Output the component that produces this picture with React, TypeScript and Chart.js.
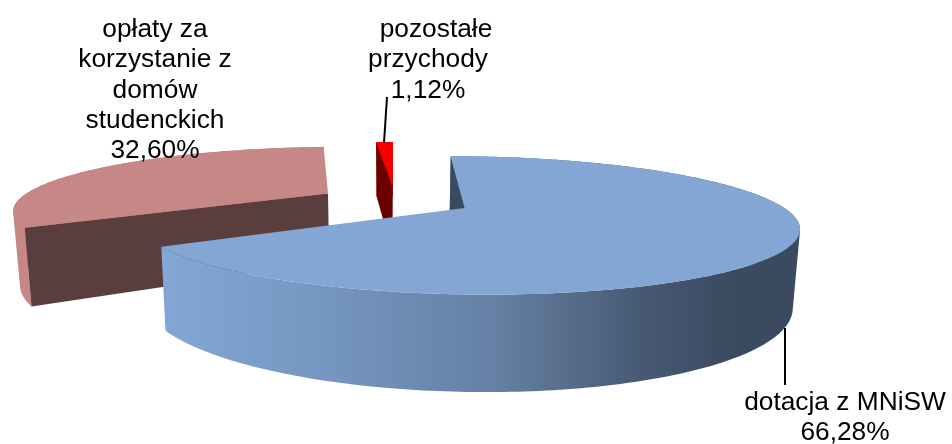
import React, { useEffect, useRef } from "react";
import { Chart, registerables } from "chart.js";

Chart.register(...registerables);

const categories = [["dotacja z MNiSW"], ["opłaty za", "korzystanie z", "domów", "studenckich"], ["pozostałe", "przychody"]];
const shares = [66.28, 32.6, 1.12];
const topColors = ["#84a6d4", "#c58886", "#f80000"];
const edgeColors = ["#3a4a5f", "#5a3d3d", "#680000"];
const rimColors = ["", "#c58886", "#f80000"];

// projection of the pie disc onto the page
const view = { cx: 395, cy: 200.3, rx: 310, ry: 61, k: 0.244, depth: 70.8, conv: 0.018, explode: 0.25 };
// label layout
const labelLayout = [
  { x: 845, y: 403, firstDx: 0 },
  { x: 155, y: 30, firstDx: 0 },
  { x: 428, y: 30, firstDx: 8 },
];
const leaders = [
  [785, 328, 785, 385],
  [387, 97, 384, 143],
  null,
];
const FONT_SIZE = 26.3;
const LINE_H = 30.2;

function project(U: number, V: number, low: boolean) {
  const W = 1 - view.k * V;
  let x = view.cx + (view.rx * U) / W;
  let y = view.cy + (view.ry * V) / W;
  if (low) {
    x = view.cx + (x - view.cx) * (1 - view.conv);
    y += view.depth / W;
  }
  return { x, y };
}

type Pt = { x: number; y: number };
function fillPoly(ctx: CanvasRenderingContext2D, pts: Pt[], fill: string | CanvasGradient) {
  ctx.beginPath();
  pts.forEach((p, i) => (i ? ctx.lineTo(p.x, p.y) : ctx.moveTo(p.x, p.y)));
  ctx.closePath();
  ctx.fillStyle = fill;
  ctx.fill();
}
function area(pts: Pt[]) {
  let s = 0;
  pts.forEach((p, i) => {
    const q = pts[(i + 1) % pts.length];
    s += p.x * q.y - q.x * p.y;
  });
  return s;
}

const pie3d = {
  id: "pie3d",
  beforeDatasetsDraw(chart: any) {
    const ctx: CanvasRenderingContext2D = chart.ctx;
    const arcs = chart.getDatasetMeta(0).data;
    const order = [1, 2, 0];
    order.forEach((i) => {
      const { startAngle: a0, endAngle: a1 } = arcs[i].getProps(["startAngle", "endAngle"], true);
      const mid = (a0 + a1) / 2;
      const ou = Math.cos(mid) * view.explode;
      const ov = Math.sin(mid) * view.explode;
      const rimTop: Pt[] = [];
      const rimLow: Pt[] = [];
      const n = Math.max(4, Math.ceil(((a1 - a0) * 180) / Math.PI));
      for (let s = 0; s <= n; s++) {
        const t = a0 + ((a1 - a0) * s) / n;
        const U = ou + Math.cos(t);
        const V = ov + Math.sin(t);
        rimTop.push(project(U, V, false));
        rimLow.push(project(U, V, true));
      }
      const apexTop = project(ou, ov, false);
      const apexLow = project(ou, ov, true);

      // outer wall: one quad per step, all wound the same way, in a single path
      let rimFill: string | CanvasGradient = rimColors[i];
      if (i === 0) {
        const g = ctx.createLinearGradient(165, 0, 735, 0);
        g.addColorStop(0, "#84a6d4");
        g.addColorStop(0.237, "#7799c4");
        g.addColorStop(0.588, "#6480a3");
        g.addColorStop(0.675, "#5a7290");
        g.addColorStop(0.833, "#475a75");
        g.addColorStop(1, "#3a4a5f");
        rimFill = g;
      }
      ctx.beginPath();
      for (let s = 0; s < n; s++) {
        let q = [rimTop[s], rimTop[s + 1], rimLow[s + 1], rimLow[s]];
        if (area(q) < 0) q = q.reverse();
        q.forEach((p, j) => (j ? ctx.lineTo(p.x, p.y) : ctx.moveTo(p.x, p.y)));
        ctx.closePath();
      }
      ctx.fillStyle = rimFill;
      ctx.fill();

      // radial walls that face the viewer
      const startWall = [apexTop, rimTop[0], rimLow[0], apexLow];
      const endWall = [apexTop, rimTop[n], rimLow[n], apexLow];
      if (area(startWall) < 0) fillPoly(ctx, startWall, edgeColors[i]);
      if (area(endWall) > 0) fillPoly(ctx, endWall, edgeColors[i]);

      // top face
      fillPoly(ctx, [apexTop, ...rimTop], topColors[i]);
    });
    return false;
  },
  afterDraw(chart: any) {
    const ctx: CanvasRenderingContext2D = chart.ctx;
    ctx.save();
    ctx.strokeStyle = "#000";
    ctx.lineWidth = 2;
    leaders.forEach((l) => {
      if (!l) return;
      ctx.beginPath();
      ctx.moveTo(l[0], l[1]);
      ctx.lineTo(l[2], l[3]);
      ctx.stroke();
    });
    ctx.fillStyle = "#000";
    ctx.font = `${FONT_SIZE}px "Liberation Sans", Arial, sans-serif`;
    ctx.textAlign = "center";
    ctx.textBaseline = "middle";
    categories.forEach((lines, i) => {
      const all = [...lines, shares[i].toFixed(2).replace(".", ",") + "%"];
      all.forEach((t, j) =>
        ctx.fillText(t, labelLayout[i].x + (j === 0 ? labelLayout[i].firstDx : 0), labelLayout[i].y + j * LINE_H)
      );
    });
    ctx.restore();
  },
};

export default function App() {
  const ref = useRef<HTMLCanvasElement>(null);
  useEffect(() => {
    document.body.style.margin = "0";
    const chart = new Chart(ref.current as HTMLCanvasElement, {
      type: "pie",
      data: {
        labels: categories.map((c) => c.join(" ")),
        datasets: [{ data: shares, backgroundColor: topColors, borderWidth: 0 }],
      },
      options: {
        responsive: false,
        animation: false,
        rotation: 0,
        events: [],
        plugins: { legend: { display: false }, tooltip: { enabled: false } },
      },
      plugins: [pie3d],
    } as any);
    return () => chart.destroy();
  }, []);
  return <canvas ref={ref} width={952} height={444} style={{ display: "block" }} />;
}
